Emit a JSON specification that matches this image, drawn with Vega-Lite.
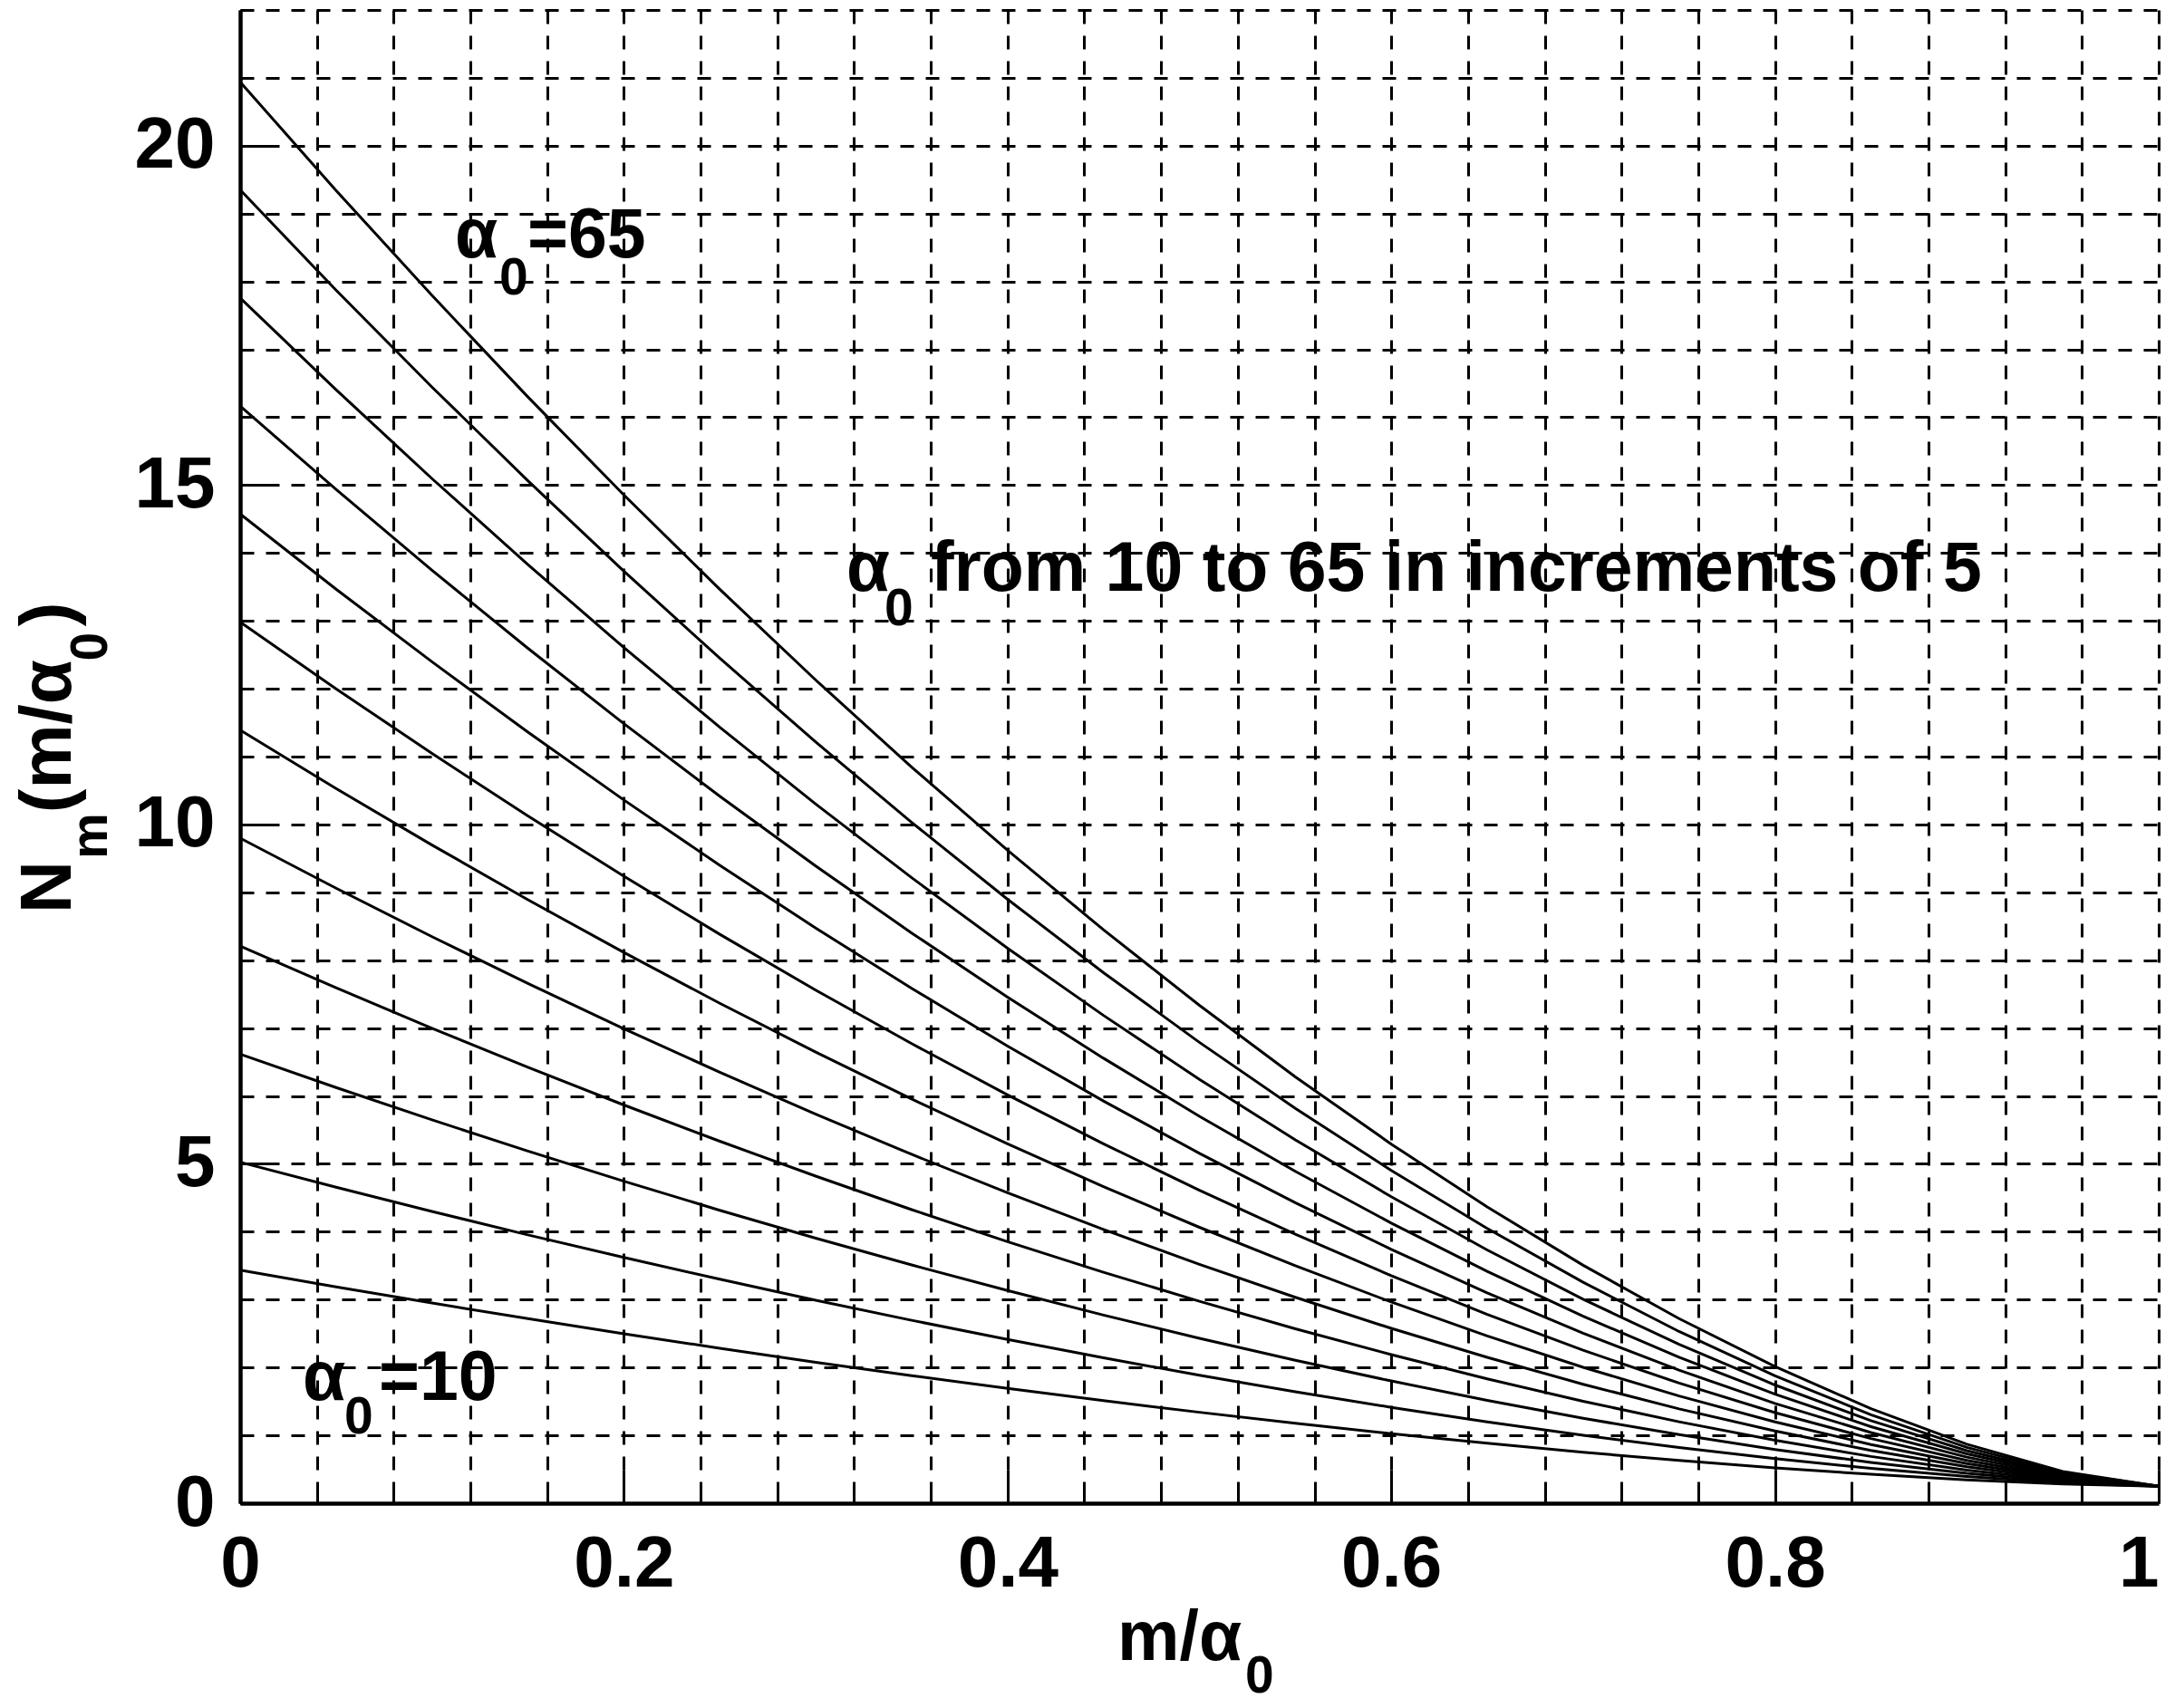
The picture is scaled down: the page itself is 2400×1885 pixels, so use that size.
{
"$schema": "https://vega.github.io/schema/vega-lite/v6.json",
"width": 2117, "height": 1648,
"autosize": {"type": "none"},
"padding": {"left": 265, "top": 11, "right": 18, "bottom": 226},
"background": "white",
"config": {"view": {"stroke": null}, "font": "Liberation Sans"},
"datasets": {
"curves": [
{"a":10,"x":0,"n":3.433},{"a":10,"x":0.05,"n":3.187},{"a":10,"x":0.1,"n":2.949},{"a":10,"x":0.15,"n":2.719},{"a":10,"x":0.2,"n":2.497},{"a":10,"x":0.25,"n":2.283},{"a":10,"x":0.3,"n":2.077},{"a":10,"x":0.35,"n":1.880},{"a":10,"x":0.4,"n":1.691},{"a":10,"x":0.45,"n":1.511},{"a":10,"x":0.5,"n":1.340},{"a":10,"x":0.55,"n":1.178},{"a":10,"x":0.6,"n":1.025},{"a":10,"x":0.65,"n":0.883},{"a":10,"x":0.7,"n":0.751},{"a":10,"x":0.75,"n":0.630},{"a":10,"x":0.8,"n":0.521},{"a":10,"x":0.85,"n":0.426},{"a":10,"x":0.9,"n":0.345},{"a":10,"x":0.95,"n":0.284},{"a":10,"x":1,"n":0.25},
{"a":15,"x":0,"n":5.025},{"a":15,"x":0.05,"n":4.656},{"a":15,"x":0.1,"n":4.299},{"a":15,"x":0.15,"n":3.953},{"a":15,"x":0.2,"n":3.620},{"a":15,"x":0.25,"n":3.300},{"a":15,"x":0.3,"n":2.991},{"a":15,"x":0.35,"n":2.695},{"a":15,"x":0.4,"n":2.412},{"a":15,"x":0.45,"n":2.142},{"a":15,"x":0.5,"n":1.885},{"a":15,"x":0.55,"n":1.642},{"a":15,"x":0.6,"n":1.413},{"a":15,"x":0.65,"n":1.199},{"a":15,"x":0.7,"n":1.001},{"a":15,"x":0.75,"n":0.820},{"a":15,"x":0.8,"n":0.657},{"a":15,"x":0.85,"n":0.514},{"a":15,"x":0.9,"n":0.393},{"a":15,"x":0.95,"n":0.300},{"a":15,"x":1,"n":0.25},
{"a":20,"x":0,"n":6.616},{"a":20,"x":0.05,"n":6.124},{"a":20,"x":0.1,"n":5.648},{"a":20,"x":0.15,"n":5.188},{"a":20,"x":0.2,"n":4.744},{"a":20,"x":0.25,"n":4.316},{"a":20,"x":0.3,"n":3.905},{"a":20,"x":0.35,"n":3.510},{"a":20,"x":0.4,"n":3.133},{"a":20,"x":0.45,"n":2.772},{"a":20,"x":0.5,"n":2.430},{"a":20,"x":0.55,"n":2.106},{"a":20,"x":0.6,"n":1.801},{"a":20,"x":0.65,"n":1.516},{"a":20,"x":0.7,"n":1.252},{"a":20,"x":0.75,"n":1.010},{"a":20,"x":0.8,"n":0.792},{"a":20,"x":0.85,"n":0.601},{"a":20,"x":0.9,"n":0.441},{"a":20,"x":0.95,"n":0.317},{"a":20,"x":1,"n":0.25},
{"a":25,"x":0,"n":8.208},{"a":25,"x":0.05,"n":7.593},{"a":25,"x":0.1,"n":6.998},{"a":25,"x":0.15,"n":6.422},{"a":25,"x":0.2,"n":5.867},{"a":25,"x":0.25,"n":5.333},{"a":25,"x":0.3,"n":4.819},{"a":25,"x":0.35,"n":4.325},{"a":25,"x":0.4,"n":3.853},{"a":25,"x":0.45,"n":3.403},{"a":25,"x":0.5,"n":2.975},{"a":25,"x":0.55,"n":2.570},{"a":25,"x":0.6,"n":2.189},{"a":25,"x":0.65,"n":1.832},{"a":25,"x":0.7,"n":1.502},{"a":25,"x":0.75,"n":1.200},{"a":25,"x":0.8,"n":0.928},{"a":25,"x":0.85,"n":0.689},{"a":25,"x":0.9,"n":0.488},{"a":25,"x":0.95,"n":0.334},{"a":25,"x":1,"n":0.25},
{"a":30,"x":0,"n":9.799},{"a":30,"x":0.05,"n":9.061},{"a":30,"x":0.1,"n":8.347},{"a":30,"x":0.15,"n":7.657},{"a":30,"x":0.2,"n":6.991},{"a":30,"x":0.25,"n":6.349},{"a":30,"x":0.3,"n":5.732},{"a":30,"x":0.35,"n":5.140},{"a":30,"x":0.4,"n":4.574},{"a":30,"x":0.45,"n":4.034},{"a":30,"x":0.5,"n":3.520},{"a":30,"x":0.55,"n":3.034},{"a":30,"x":0.6,"n":2.576},{"a":30,"x":0.65,"n":2.149},{"a":30,"x":0.7,"n":1.753},{"a":30,"x":0.75,"n":1.390},{"a":30,"x":0.8,"n":1.064},{"a":30,"x":0.85,"n":0.777},{"a":30,"x":0.9,"n":0.536},{"a":30,"x":0.95,"n":0.351},{"a":30,"x":1,"n":0.25},
{"a":35,"x":0,"n":11.391},{"a":35,"x":0.05,"n":10.530},{"a":35,"x":0.1,"n":9.697},{"a":35,"x":0.15,"n":8.891},{"a":35,"x":0.2,"n":8.114},{"a":35,"x":0.25,"n":7.366},{"a":35,"x":0.3,"n":6.646},{"a":35,"x":0.35,"n":5.955},{"a":35,"x":0.4,"n":5.295},{"a":35,"x":0.45,"n":4.664},{"a":35,"x":0.5,"n":4.065},{"a":35,"x":0.55,"n":3.498},{"a":35,"x":0.6,"n":2.964},{"a":35,"x":0.65,"n":2.465},{"a":35,"x":0.7,"n":2.003},{"a":35,"x":0.75,"n":1.580},{"a":35,"x":0.8,"n":1.199},{"a":35,"x":0.85,"n":0.865},{"a":35,"x":0.9,"n":0.584},{"a":35,"x":0.95,"n":0.368},{"a":35,"x":1,"n":0.25},
{"a":40,"x":0,"n":12.982},{"a":40,"x":0.05,"n":11.998},{"a":40,"x":0.1,"n":11.046},{"a":40,"x":0.15,"n":10.126},{"a":40,"x":0.2,"n":9.238},{"a":40,"x":0.25,"n":8.382},{"a":40,"x":0.3,"n":7.560},{"a":40,"x":0.35,"n":6.771},{"a":40,"x":0.4,"n":6.015},{"a":40,"x":0.45,"n":5.295},{"a":40,"x":0.5,"n":4.610},{"a":40,"x":0.55,"n":3.962},{"a":40,"x":0.6,"n":3.352},{"a":40,"x":0.65,"n":2.782},{"a":40,"x":0.7,"n":2.254},{"a":40,"x":0.75,"n":1.770},{"a":40,"x":0.8,"n":1.335},{"a":40,"x":0.85,"n":0.953},{"a":40,"x":0.9,"n":0.632},{"a":40,"x":0.95,"n":0.385},{"a":40,"x":1,"n":0.25},
{"a":45,"x":0,"n":14.574},{"a":45,"x":0.05,"n":13.467},{"a":45,"x":0.1,"n":12.396},{"a":45,"x":0.15,"n":11.360},{"a":45,"x":0.2,"n":10.361},{"a":45,"x":0.25,"n":9.399},{"a":45,"x":0.3,"n":8.474},{"a":45,"x":0.35,"n":7.586},{"a":45,"x":0.4,"n":6.736},{"a":45,"x":0.45,"n":5.925},{"a":45,"x":0.5,"n":5.155},{"a":45,"x":0.55,"n":4.426},{"a":45,"x":0.6,"n":3.740},{"a":45,"x":0.65,"n":3.098},{"a":45,"x":0.7,"n":2.504},{"a":45,"x":0.75,"n":1.960},{"a":45,"x":0.8,"n":1.470},{"a":45,"x":0.85,"n":1.041},{"a":45,"x":0.9,"n":0.679},{"a":45,"x":0.95,"n":0.401},{"a":45,"x":1,"n":0.25},
{"a":50,"x":0,"n":16.165},{"a":50,"x":0.05,"n":14.935},{"a":50,"x":0.1,"n":13.745},{"a":50,"x":0.15,"n":12.595},{"a":50,"x":0.2,"n":11.485},{"a":50,"x":0.25,"n":10.416},{"a":50,"x":0.3,"n":9.387},{"a":50,"x":0.35,"n":8.401},{"a":50,"x":0.4,"n":7.457},{"a":50,"x":0.45,"n":6.556},{"a":50,"x":0.5,"n":5.700},{"a":50,"x":0.55,"n":4.890},{"a":50,"x":0.6,"n":4.127},{"a":50,"x":0.65,"n":3.415},{"a":50,"x":0.7,"n":2.755},{"a":50,"x":0.75,"n":2.150},{"a":50,"x":0.8,"n":1.606},{"a":50,"x":0.85,"n":1.128},{"a":50,"x":0.9,"n":0.727},{"a":50,"x":0.95,"n":0.418},{"a":50,"x":1,"n":0.25},
{"a":55,"x":0,"n":17.757},{"a":55,"x":0.05,"n":16.404},{"a":55,"x":0.1,"n":15.095},{"a":55,"x":0.15,"n":13.829},{"a":55,"x":0.2,"n":12.608},{"a":55,"x":0.25,"n":11.432},{"a":55,"x":0.3,"n":10.301},{"a":55,"x":0.35,"n":9.216},{"a":55,"x":0.4,"n":8.177},{"a":55,"x":0.45,"n":7.187},{"a":55,"x":0.5,"n":6.245},{"a":55,"x":0.55,"n":5.354},{"a":55,"x":0.6,"n":4.515},{"a":55,"x":0.65,"n":3.731},{"a":55,"x":0.7,"n":3.005},{"a":55,"x":0.75,"n":2.340},{"a":55,"x":0.8,"n":1.742},{"a":55,"x":0.85,"n":1.216},{"a":55,"x":0.9,"n":0.775},{"a":55,"x":0.95,"n":0.435},{"a":55,"x":1,"n":0.25},
{"a":60,"x":0,"n":19.349},{"a":60,"x":0.05,"n":17.872},{"a":60,"x":0.1,"n":16.444},{"a":60,"x":0.15,"n":15.064},{"a":60,"x":0.2,"n":13.732},{"a":60,"x":0.25,"n":12.449},{"a":60,"x":0.3,"n":11.215},{"a":60,"x":0.35,"n":10.031},{"a":60,"x":0.4,"n":8.898},{"a":60,"x":0.45,"n":7.817},{"a":60,"x":0.5,"n":6.790},{"a":60,"x":0.55,"n":5.818},{"a":60,"x":0.6,"n":4.903},{"a":60,"x":0.65,"n":4.048},{"a":60,"x":0.7,"n":3.255},{"a":60,"x":0.75,"n":2.530},{"a":60,"x":0.8,"n":1.877},{"a":60,"x":0.85,"n":1.304},{"a":60,"x":0.9,"n":0.822},{"a":60,"x":0.95,"n":0.452},{"a":60,"x":1,"n":0.25},
{"a":65,"x":0,"n":20.940},{"a":65,"x":0.05,"n":19.341},{"a":65,"x":0.1,"n":17.794},{"a":65,"x":0.15,"n":16.298},{"a":65,"x":0.2,"n":14.855},{"a":65,"x":0.25,"n":13.465},{"a":65,"x":0.3,"n":12.128},{"a":65,"x":0.35,"n":10.846},{"a":65,"x":0.4,"n":9.619},{"a":65,"x":0.45,"n":8.448},{"a":65,"x":0.5,"n":7.335},{"a":65,"x":0.55,"n":6.282},{"a":65,"x":0.6,"n":5.291},{"a":65,"x":0.65,"n":4.364},{"a":65,"x":0.7,"n":3.506},{"a":65,"x":0.75,"n":2.720},{"a":65,"x":0.8,"n":2.013},{"a":65,"x":0.85,"n":1.392},{"a":65,"x":0.9,"n":0.870},{"a":65,"x":0.95,"n":0.469},{"a":65,"x":1,"n":0.25}
],
"ann": [
{"x":0.112,"y":18.36,"t":"α"},{"x":0.1497,"y":18.36,"t":"=65"},
{"x":0.0326,"y":1.522,"t":"α"},{"x":0.0723,"y":1.522,"t":"=10"},
{"x":0.316,"y":13.44,"t":"α"},{"x":0.360,"y":13.44,"t":"from 10 to 65 in increments of 5"},
{"x":0.4573,"y":-2.31,"t":"m/α"}
],
"sub": [
{"x":0.1351,"y":17.81,"t":"0"},{"x":0.0543,"y":1.028,"t":"0"},{"x":0.3359,"y":12.94,"t":"0"},
{"x":0.5238,"y":-2.79,"t":"0"}
],
"ytm": [
{"x":-0.0883,"y":8.69,"t":"N"},{"x":-0.0883,"y":10.17,"t":"(m/α"},{"x":-0.0883,"y":12.92,"t":")"}
],
"yts": [
{"x":-0.0694,"y":9.49,"t":"m"},{"x":-0.0694,"y":12.41,"t":"0"}
]
},
"resolve": {"axis": {"x": "independent", "y": "independent"}},
"layer": [
{
"data": {"name": "curves"},
"mark": {"type": "line", "color": "black", "strokeWidth": 3},
"encoding": {
"x": {"field": "x", "type": "quantitative", "scale": {"domain": [0, 1], "nice": false},
"axis": {"orient": "bottom", "values": [0, 0.2, 0.4, 0.6, 0.8, 1], "format": "~g", "grid": false,
"tickSize": -37, "tickWidth": 3, "tickColor": "black", "domainColor": "black", "domainWidth": 4.5,
"labelFont": "Liberation Sans", "labelFontSize": 80, "labelFontWeight": "bold", "labelColor": "black", "labelPadding": 65, "labelFlush": false,
"labelAlign": {"condition": {"test": "datum.value >= 1", "value": "right"}, "value": "center"},
"title": null}},
"y": {"field": "n", "type": "quantitative", "scale": {"domain": [0, 22], "nice": false},
"axis": {"orient": "left", "values": [0, 5, 10, 15, 20], "grid": false,
"tickSize": -37, "tickWidth": 3, "tickColor": "black", "domainColor": "black", "domainWidth": 4.5,
"labelFont": "Liberation Sans", "labelFontSize": 80, "labelFontWeight": "bold", "labelColor": "black", "labelPadding": 65, "labelFlush": false,
"title": null}},
"detail": {"field": "a", "type": "nominal"}
}
},
{
"data": {"name": "ann"},
"mark": {"type": "text", "align": "left", "baseline": "alphabetic", "font": "Liberation Sans", "fontSize": 77, "fontWeight": "bold", "color": "black"},
"encoding": {
"x": {"field": "x", "type": "quantitative",
"axis": {"orient": "bottom", "values": [0,0.04,0.08,0.12,0.16,0.2,0.24,0.28,0.32,0.36,0.4,0.44,0.48,0.52,0.56,0.6,0.64,0.68,0.72,0.76,0.8,0.84,0.88,0.92,0.96,1],
"labels": false, "domain": false, "grid": true, "gridColor": "black", "gridOpacity": 1, "gridWidth": 3, "gridDash": [15, 13],
"tickSize": -12, "tickWidth": 3, "tickColor": "black", "title": null}},
"y": {"field": "y", "type": "quantitative",
"axis": {"orient": "left", "values": [0,1,2,3,4,5,6,7,8,9,10,11,12,13,14,15,16,17,18,19,20,21,22],
"labels": false, "domain": false, "grid": true, "gridColor": "black", "gridOpacity": 1, "gridWidth": 3, "gridDash": [15, 13],
"tickSize": -12, "tickWidth": 3, "tickColor": "black", "title": null}},
"text": {"field": "t", "type": "nominal"}
}
},
{
"data": {"name": "sub"},
"mark": {"type": "text", "align": "left", "baseline": "alphabetic", "font": "Liberation Sans", "fontSize": 57, "fontWeight": "bold", "color": "black"},
"encoding": {
"x": {"field": "x", "type": "quantitative", "axis": null},
"y": {"field": "y", "type": "quantitative", "axis": null},
"text": {"field": "t", "type": "nominal"}
}
},
{
"data": {"name": "ytm"},
"mark": {"type": "text", "align": "left", "baseline": "alphabetic", "angle": 270, "font": "Liberation Sans", "fontSize": 80, "fontWeight": "bold", "color": "black"},
"encoding": {
"x": {"field": "x", "type": "quantitative", "axis": null},
"y": {"field": "y", "type": "quantitative", "axis": null},
"text": {"field": "t", "type": "nominal"}
}
},
{
"data": {"name": "yts"},
"mark": {"type": "text", "align": "left", "baseline": "alphabetic", "angle": 270, "font": "Liberation Sans", "fontSize": 57, "fontWeight": "bold", "color": "black"},
"encoding": {
"x": {"field": "x", "type": "quantitative", "axis": null},
"y": {"field": "y", "type": "quantitative", "axis": null},
"text": {"field": "t", "type": "nominal"}
}
}
]
}
